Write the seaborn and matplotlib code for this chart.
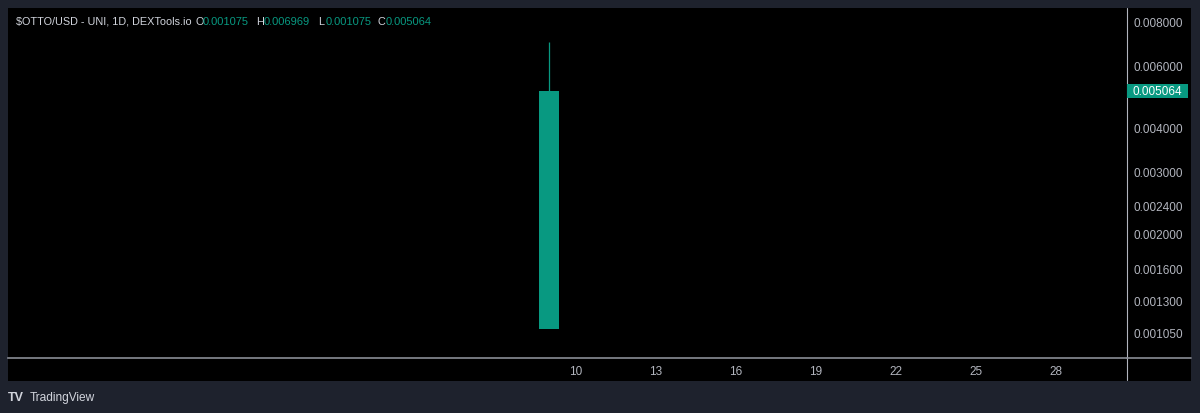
import numpy as np
import pandas as pd
import matplotlib
matplotlib.use("Agg")
import matplotlib.pyplot as plt
import seaborn as sns
from matplotlib.patches import Rectangle
from matplotlib.lines import Line2D

# candle data (day of month)
days = [9]
opens = [0.001075]
highs = [0.006969]
lows = [0.001075]
closes = [0.005064]

price_ticks = [0.00105, 0.0013, 0.0016, 0.002, 0.0024, 0.003, 0.004, 0.006, 0.008]
day_ticks = [10, 13, 16, 19, 22, 25, 28]

df = pd.DataFrame({"day": days, "open": opens, "high": highs, "low": lows, "close": closes})

sns.set_style("dark", rc={"axes.facecolor": "#000000", "figure.facecolor": "#1e222d"})
plt.rcParams["font.family"] = ["Liberation Sans", "DejaVu Sans"]

up = "#089981"
txt = "#d1d4dc"
grey = "#b2b5be"

fig = plt.figure(figsize=(12, 4.14), dpi=100)
W, H = 1200, 414

# black chart panel
fig.patches.append(Rectangle((8 / W, 1 - 382 / H), 1183 / W, 373 / H,
                             transform=fig.transFigure, facecolor="#000000",
                             edgecolor="none", zorder=-10))

ax = fig.add_axes([8 / W, 1 - 359 / H, (1126.5 - 8) / W, (359 - 9) / H])
ax.set_facecolor("#000000")
ax.set_yscale("log")

# candle body + wicks
for _, r in df.iterrows():
    lo, hi = min(r["open"], r["close"]), max(r["open"], r["close"])
    ax.bar(r["day"], hi - lo, bottom=lo, width=0.75, color=up, linewidth=0, zorder=3)
    ax.vlines(r["day"], hi, r["high"], color=up, linewidth=0.9, zorder=2)
    ax.vlines(r["day"], r["low"], lo, color=up, linewidth=0.9, zorder=2)

ax.set_xlim(-11.30, 30.64)
ax.set_ylim(0.000892, 0.008709)

ax.yaxis.tick_right()
ax.set_yticks(price_ticks)
ax.set_yticklabels([f"{v:.6f}" for v in price_ticks])
ax.yaxis.set_minor_locator(matplotlib.ticker.NullLocator())
ax.set_xticks(day_ticks)
ax.set_xticklabels([str(d) for d in day_ticks])
ax.tick_params(axis="y", length=0, pad=4.8, labelsize=8.5, labelcolor=grey)
ax.tick_params(axis="x", length=0, pad=5.0, labelsize=8.5, labelcolor=grey)
ax.grid(False)

for s in ["top", "left"]:
    ax.spines[s].set_visible(False)
ax.spines["bottom"].set_color("#8a8d96")
ax.spines["bottom"].set_linewidth(1.2)
ax.spines["right"].set_visible(False)

# price-scale separator running down into the time scale
fig.lines.append(Line2D([1126.5 / W, 1126.5 / W], [1 - 9 / H, 1 - 381 / H],
                        transform=fig.transFigure, color="#b2b5be", linewidth=0.8))
# bottom line continues under price scale
fig.lines.append(Line2D([1126.5 / W, 1191 / W], [1 - 359 / H, 1 - 359 / H],
                        transform=fig.transFigure, color="#8a8d96", linewidth=1.2))

# last price label on the price scale
last = closes[-1]
y_pix = ax.transData.transform((0, last))[1]
fig.patches.append(Rectangle((1126.5 / W, (y_pix - 7) / H), 61 / W, 14 / H,
                             transform=fig.transFigure, facecolor=up,
                             edgecolor="none", zorder=5))
fig.text(1157 / W, y_pix / H, f"{last:.6f}", color="#ffffff", fontsize=8.5,
         ha="center", va="center", zorder=6)

# legend line at top
y0 = 1 - 22 / H
fig.text(16.5 / W, y0, r"\$OTTO/USD - UNI, 1D, DEXTools.io", color=txt, fontsize=7.8, va="center")
parts = [("O", 196, opens[0], 203), ("H", 256, highs[0], 264),
         ("L", 318, lows[0], 326), ("C", 377, closes[0], 386)]
for lab, lx, val, vx in parts:
    fig.text(lx / W, y0, lab, color=txt, fontsize=7.8, va="center")
    fig.text(vx / W, y0, f"{val:.6f}", color=up, fontsize=8.0, va="center")

# TradingView footer
fig.text(8 / W, 1 - 398 / H, "TV", color=txt, fontsize=9, fontweight="bold", va="center")
fig.text(30 / W, 1 - 398 / H, "TradingView", color=txt, fontsize=8.6, va="center")

fig.savefig("out.png", dpi=100, facecolor=fig.get_facecolor())
